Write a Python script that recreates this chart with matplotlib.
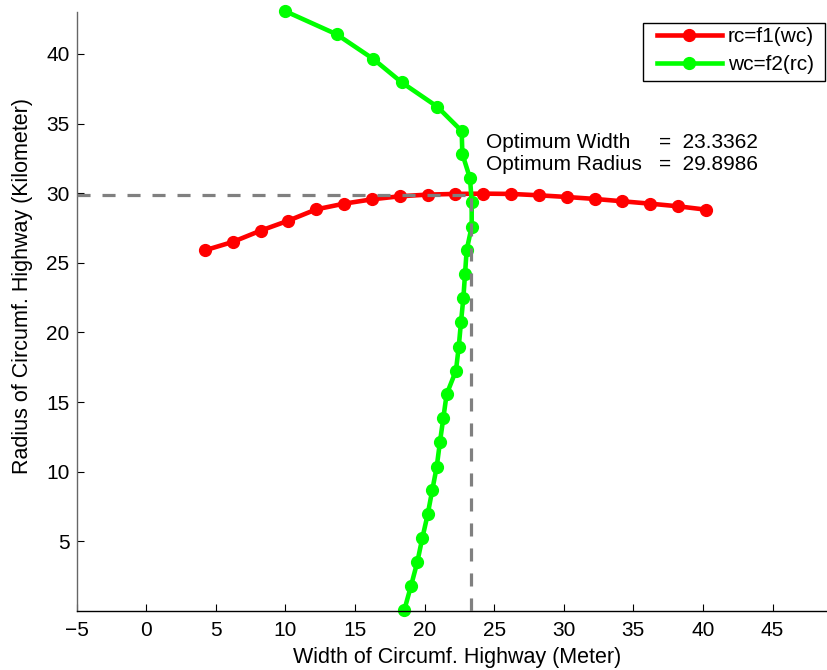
import matplotlib
matplotlib.use("Agg")
import matplotlib.pyplot as plt
from matplotlib.patches import Rectangle

plt.rcParams['font.family'] = ['Liberation Sans', 'DejaVu Sans']
plt.rcParams['lines.scale_dashes'] = False

# rc = f1(wc): radius as a function of width
wc_f1 = [4.22, 6.22, 8.22, 10.22, 12.22, 14.22, 16.22, 18.22, 20.22, 22.22,
         24.22, 26.22, 28.22, 30.22, 32.22, 34.22, 36.22, 38.22, 40.22]
rc_f1 = [25.90, 26.50, 27.31, 28.03, 28.84, 29.25, 29.56, 29.78, 29.90, 29.95,
         29.97, 29.95, 29.85, 29.73, 29.59, 29.42, 29.25, 29.06, 28.82]

# wc = f2(rc): width as a function of radius
wc_f2 = [9.98, 13.69, 16.32, 18.36, 20.92, 22.67, 22.72, 23.27, 23.39, 23.39,
         23.03, 22.91, 22.79, 22.62, 22.46, 22.26, 21.59, 21.35, 21.11, 20.88,
         20.56, 20.23, 19.84, 19.48, 19.03, 18.55]
rc_f2 = [43.08, 41.41, 39.64, 37.96, 36.21, 34.47, 32.82, 31.07, 29.39, 27.60,
         25.92, 24.18, 22.45, 20.73, 18.98, 17.26, 15.56, 13.84, 12.14, 10.36,
         8.69, 6.94, 5.22, 3.50, 1.80, 0.07]

opt_width = 23.3362
opt_radius = 29.8986

x_ticks = [-5, 0, 5, 10, 15, 20, 25, 30, 35, 40, 45]
y_ticks = [5, 10, 15, 20, 25, 30, 35, 40]

W, H = 827, 670
fig = plt.figure(figsize=(W / 100, H / 100), dpi=100)
ax = fig.add_axes([76.5 / W, 1 - 611 / H, (W - 76.5) / W, (611 - 12) / H])

xmin, xmax = -5, -5 + (W - 76.5) / 13.92
ymin, ymax = 0, (611 - 12) / 13.926
ax.set_xlim(xmin, xmax)
ax.set_ylim(ymin, ymax)

dash_style = dict(color='#808080', linewidth=2.3, dashes=(9.4, 8.6), zorder=3)

l1, = ax.plot(wc_f1, rc_f1, color='#ff0000', linewidth=3.3, marker='o',
              markersize=8.5, markeredgewidth=1.0, clip_on=False, zorder=2,
              label='rc=f1(wc)')
l2, = ax.plot(wc_f2, rc_f2, color='#00ff00', linewidth=3.3, marker='o',
              markersize=8.5, markeredgewidth=1.0, clip_on=False, zorder=2,
              label='wc=f2(rc)')

ax.plot([xmin, opt_width], [opt_radius, opt_radius], **dash_style)
ax.plot([opt_width, opt_width], [ymin, opt_radius], **dash_style)

txt = dict(fontsize=15, va='center', ha='left')
ax.text(24.45, 33.65, 'Optimum Width', **txt)
ax.text(24.45, 32.05, 'Optimum Radius', **txt)
ax.text(36.85, 33.65, '=  %.4f' % opt_width, **txt)
ax.text(36.85, 32.05, '=  %.4f' % opt_radius, **txt)

ax.set_xticks(x_ticks)
ax.set_yticks(y_ticks)
ax.tick_params(direction='in', length=5, width=0.8, labelsize=15)
ax.tick_params(axis='x', pad=7)
ax.tick_params(axis='y', pad=5)
ax.spines['top'].set_visible(False)
ax.spines['right'].set_visible(False)
ax.spines['left'].set_color('#666666')
ax.spines['left'].set_linewidth(1.0)
ax.spines['bottom'].set_linewidth(1.0)

ax.set_xlabel('Width of Circumf. Highway (Meter)', fontsize=15.5)
ax.set_ylabel('Radius of Circumf. Highway (Kilometer)', fontsize=15.5)
ax.xaxis.set_label_coords((457 - 76.5) / (W - 76.5), -(647 - 611) / 599)
ax.yaxis.set_label_coords(-(76.5 - 33) / (W - 76.5), (611 - 286) / 599)

# legend box with its frame drawn separately
frame = Rectangle((643 / W, 1 - 81 / H), (825 - 643) / W, (81 - 23) / H,
                  transform=fig.transFigure, facecolor='white',
                  edgecolor='black', linewidth=1.0, zorder=4.5, clip_on=False)
ax.add_patch(frame)
leg = ax.legend(handles=[l1, l2], loc='upper left',
                bbox_to_anchor=(657 / W, 1 - 27 / H),
                bbox_transform=fig.transFigure, borderaxespad=0,
                frameon=False, fontsize=15, handlelength=3.1,
                handletextpad=0.3, borderpad=0, labelspacing=0.43)
leg.set_zorder(5)

fig.savefig('out.png', dpi=100)
